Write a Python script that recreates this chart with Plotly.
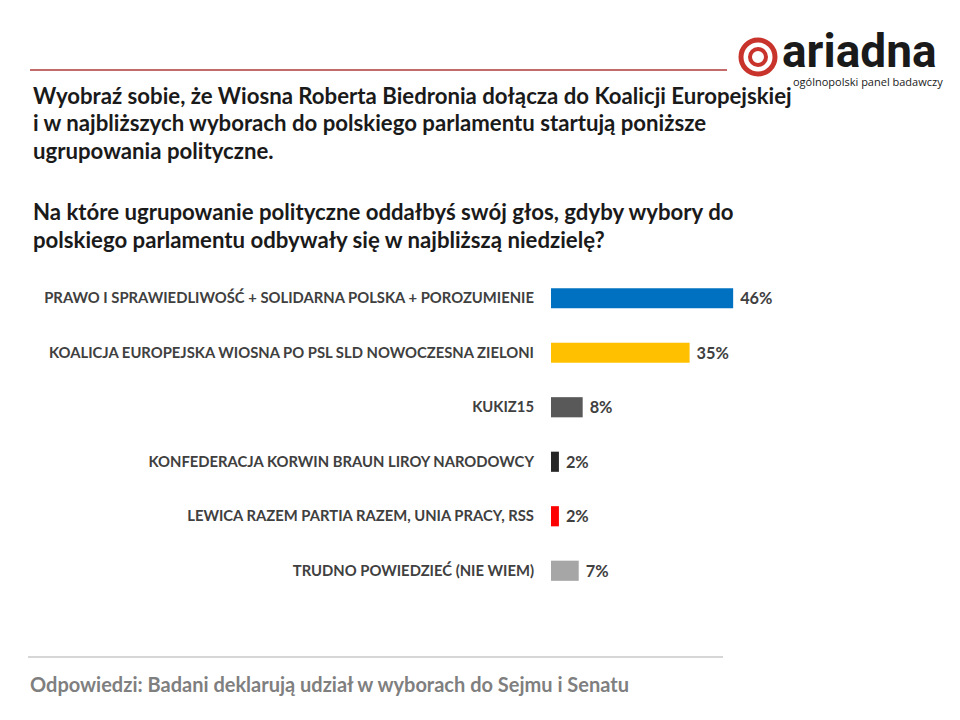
import plotly.graph_objects as go

categories = [
    "PRAWO I SPRAWIEDLIWOŚĆ + SOLIDARNA POLSKA + POROZUMIENIE",
    "KOALICJA EUROPEJSKA WIOSNA PO PSL SLD NOWOCZESNA ZIELONI",
    "KUKIZ15",
    "KONFEDERACJA KORWIN BRAUN LIROY NARODOWCY",
    "LEWICA RAZEM PARTIA RAZEM, UNIA PRACY, RSS",
    "TRUDNO POWIEDZIEĆ (NIE WIEM)",
]
values = [46, 35, 8, 2, 2, 7]
colors = ["#0070c0", "#ffc000", "#595959", "#262626", "#ff0000", "#a6a6a6"]

title_lines = [
    "Wyobraź sobie, że Wiosna Roberta Biedronia dołącza do Koalicji Europejskiej",
    "i w najbliższych wyborach do polskiego parlamentu startują poniższe",
    "ugrupowania polityczne.",
    "",
    "Na które ugrupowanie polityczne oddałbyś swój głos, gdyby wybory do",
    "polskiego parlamentu odbywały się w najbliższą niedzielę?",
]
footer = "Odpowiedzi: Badani deklarują udział w wyborach do Sejmu i Senatu"

W, H = 960, 720
FONT = "Lato"

fig = go.Figure(go.Bar(
    x=values, y=categories, orientation="h",
    marker=dict(color=colors, line=dict(width=0)),
    width=0.37,
    text=[f" {v}%" for v in values], textposition="outside",
    textfont=dict(family=FONT, size=17, color="#404040", weight="bold"),
    cliponaxis=False, hoverinfo="skip",
))

ml, mr, mt, mb = 551, 13, 271, 122
PW, PH = W - ml - mr, H - mt - mb
fig.update_layout(
    width=W, height=H, margin=dict(l=ml, r=mr, t=mt, b=mb),
    plot_bgcolor="white", paper_bgcolor="white", showlegend=False,
    xaxis=dict(range=[0, 100], visible=False),
    yaxis=dict(autorange="reversed", showgrid=False, zeroline=False, showline=False,
               ticks="", ticklabelstandoff=16,
               tickfont=dict(family=FONT, size=14.8, color="#404040", weight="bold")),
)

def px_x(p):
    return (p - ml) / PW

def px_y(p):
    return (H - mb - p) / PH

shapes = [
    dict(type="line", xref="paper", yref="paper", x0=px_x(30), x1=px_x(727), y0=px_y(70), y1=px_y(70),
         line=dict(color="#b03a3a", width=1.5)),
    dict(type="line", xref="paper", yref="paper", x0=px_x(28), x1=px_x(723), y0=px_y(657), y1=px_y(657),
         line=dict(color="#c8c8c8", width=1.5)),
]
cx, cy = 758, 57
for r, w in [(17, 5), (8, 4)]:
    shapes.append(dict(type="circle", xref="paper", yref="paper",
                       x0=px_x(cx - r), x1=px_x(cx + r), y0=px_y(cy + r), y1=px_y(cy - r),
                       line=dict(color="#c8332b", width=w)))
fig.update_layout(shapes=shapes)

annotations = []
line_y = [95, 122, 150, 181, 212, 239]
for t, yy in zip(title_lines, line_y):
    if not t:
        continue
    annotations.append(dict(text=t, xref="paper", yref="paper", x=px_x(31), y=px_y(yy),
                            xanchor="left", yanchor="middle", showarrow=False,
                            font=dict(family=FONT, size=22.2, color="#1a1a1a", weight="bold")))
annotations.append(dict(text=footer, xref="paper", yref="paper", x=px_x(28), y=px_y(684),
                        xanchor="left", yanchor="middle", showarrow=False,
                        font=dict(family=FONT, size=20, color="#7f7f7f", weight="bold")))
annotations.append(dict(text="ariadna", xref="paper", yref="paper", x=px_x(780), y=px_y(51),
                        xanchor="left", yanchor="middle", showarrow=False,
                        font=dict(family="Roboto", size=46, color="#1a1a1a", weight="bold")))
annotations.append(dict(text="ogólnopolski panel badawczy", xref="paper", yref="paper", x=px_x(945), y=px_y(82),
                        xanchor="right", yanchor="middle", showarrow=False,
                        font=dict(family="Open Sans", size=11, color="#1a1a1a")))
fig.update_layout(annotations=annotations)

fig.write_html("out.html", config={"displayModeBar": False},
               post_script="document.body.style.margin='0';")
